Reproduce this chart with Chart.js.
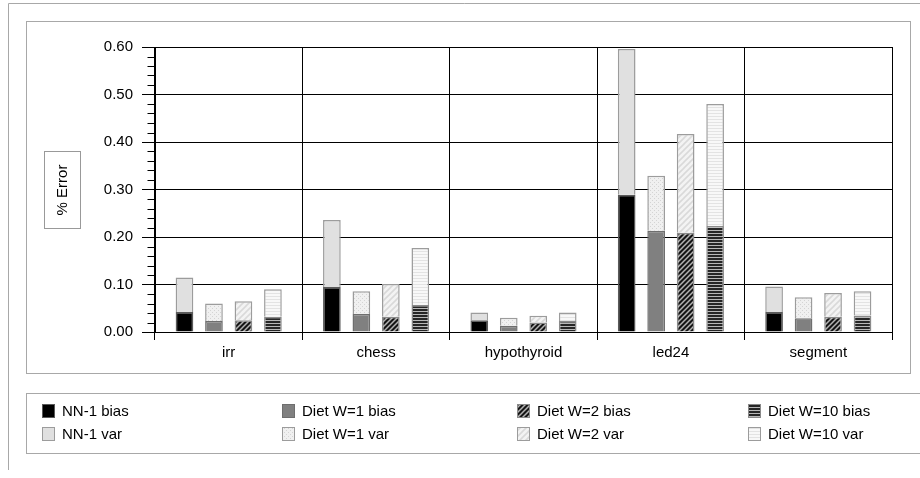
<!DOCTYPE html>
<html>
<head>
<meta charset="utf-8">
<script src="https://cdn.jsdelivr.net/npm/chart.js@4.4.0/dist/chart.umd.min.js"></script>
<style>
  html, body { margin: 0; padding: 0; background: #fff; }
  #wrap { width: 920px; height: 478px; position: relative; }
</style>
</head>
<body>
<div id="wrap"><canvas id="c"></canvas></div>
<script>
// Error decomposition (bias + variance) per data set
const categories = ['irr', 'chess', 'hypothyroid', 'led24', 'segment'];

const nn1Bias  = [0.042, 0.095, 0.025, 0.289, 0.042];
const nn1Var   = [0.073, 0.141, 0.016, 0.307, 0.054];
const w1Bias   = [0.023, 0.038, 0.013, 0.213, 0.029];
const w1Var    = [0.037, 0.048, 0.017, 0.116, 0.044];
const w2Bias   = [0.025, 0.032, 0.020, 0.209, 0.032];
const w2Var    = [0.040, 0.069, 0.014, 0.208, 0.050];
const w10Bias  = [0.032, 0.057, 0.023, 0.223, 0.035];
const w10Var   = [0.058, 0.120, 0.018, 0.257, 0.051];

const yTickValues = [0, 0.1, 0.2, 0.3, 0.4, 0.5, 0.6];
const yTitle = '% Error';

const FONT = '"Liberation Sans", Arial, Helvetica, sans-serif';
Chart.defaults.font.family = FONT;
Chart.defaults.font.size = 15;
Chart.defaults.color = '#000';

const canvas = document.getElementById('c');
const ctx0 = canvas.getContext('2d');

function tile(w, h, draw) {
  const t = document.createElement('canvas');
  t.width = w; t.height = h;
  draw(t.getContext('2d'), w, h);
  return ctx0.createPattern(t, 'repeat');
}
function diag(g, s, bg, fg, lw) {
  g.fillStyle = bg; g.fillRect(0, 0, s, s);
  g.strokeStyle = fg; g.lineWidth = lw;
  g.beginPath();
  g.moveTo(-s, s); g.lineTo(s, -s);
  g.moveTo(0, s * 2); g.lineTo(s * 2, 0);
  g.moveTo(0, s); g.lineTo(s, 0);
  g.stroke();
}

const fills = {
  nn1Bias: '#000000',
  nn1Var: '#e0e0e0',
  w1Bias: '#808080',
  w1Var: tile(4, 4, (g) => {
    g.fillStyle = '#f0f0f0'; g.fillRect(0, 0, 4, 4);
    g.fillStyle = '#d4d4d4'; g.fillRect(0, 0, 1, 1); g.fillRect(2, 2, 1, 1);
  }),
  w2Bias: tile(5, 5, (g) => diag(g, 5, '#161616', '#b4b4b4', 1.5)),
  w2Var: tile(6, 6, (g) => diag(g, 6, '#f3f3f3', '#d9d9d9', 1.6)),
  w10Bias: tile(4, 3, (g) => {
    g.fillStyle = '#262626'; g.fillRect(0, 0, 4, 2);
    g.fillStyle = '#b8b8b8'; g.fillRect(0, 2, 4, 1);
  }),
  w10Var: tile(4, 3, (g) => {
    g.fillStyle = '#f8f8f8'; g.fillRect(0, 0, 4, 3);
    g.fillStyle = '#e3e3e3'; g.fillRect(0, 2, 4, 1);
  })
};

function ds(label, data, stack, fill, border) {
  return {
    label, data, stack,
    backgroundColor: fill,
    borderColor: border || '#9c9c9c',
    borderWidth: 1.5,
    categoryPercentage: 0.8,
    barPercentage: 0.6
  };
}

const datasets = [
  ds('NN-1 bias', nn1Bias, 'nn1', fills.nn1Bias, '#5a5a5a'),
  ds('Diet W=1 bias', w1Bias, 'w1', fills.w1Bias, '#6e6e6e'),
  ds('Diet W=2 bias', w2Bias, 'w2', fills.w2Bias, '#8a8a8a'),
  ds('Diet W=10 bias', w10Bias, 'w10', fills.w10Bias, '#8a8a8a'),
  ds('NN-1 var', nn1Var, 'nn1', fills.nn1Var),
  ds('Diet W=1 var', w1Var, 'w1', fills.w1Var),
  ds('Diet W=2 var', w2Var, 'w2', fills.w2Var),
  ds('Diet W=10 var', w10Var, 'w10', fills.w10Var)
];

// Gray panel frames and the boxed axis title
const framePlugin = {
  id: 'frames',
  beforeDraw(chart) {
    const c = chart.ctx;
    c.save();
    c.strokeStyle = '#a8a8a8';
    c.lineWidth = 1;
    c.beginPath();
    c.moveTo(8.5, 470); c.lineTo(8.5, 3.5); c.lineTo(921, 3.5);
    c.stroke();
    c.strokeRect(26.5, 21.5, 884, 352);
    c.strokeRect(26.5, 393.5, 900, 60);
    c.strokeStyle = '#999';
    c.strokeRect(44.5, 151.5, 36, 77);
    c.fillStyle = '#000';
    c.font = '15px ' + FONT;
    c.translate(63, 190);
    c.rotate(-Math.PI / 2);
    c.textAlign = 'center';
    c.textBaseline = 'middle';
    c.fillText(yTitle, 0, 0);
    c.restore();
  }
};

// Minor tick marks on the value axis
const minorTicks = {
  id: 'minorTicks',
  afterDraw(chart) {
    const y = chart.scales.y;
    const c = chart.ctx;
    const x0 = Math.round(y.right) + 0.5;
    c.save();
    c.strokeStyle = '#000';
    c.lineWidth = 1;
    c.beginPath();
    for (let i = 1; i < 30; i++) {
      if (i % 5 === 0) continue;
      const py = Math.round(y.getPixelForValue(i * 0.02)) + 0.5;
      c.moveTo(x0 - 8, py); c.lineTo(x0, py);
    }
    c.stroke();
    c.restore();
  }
};

// Four-column legend: bias row on top, variance row below
const legendPlugin = {
  id: 'gridLegend',
  afterDraw(chart) {
    const c = chart.ctx;
    const colX = [42, 282, 517, 748];
    const rowY = [411, 434];
    c.save();
    c.font = '15px ' + FONT;
    c.textBaseline = 'middle';
    c.textAlign = 'left';
    chart.data.datasets.forEach((d, i) => {
      const col = i % 4, row = Math.floor(i / 4);
      const x = colX[col], yc = rowY[row];
      c.fillStyle = d.backgroundColor;
      c.fillRect(x, yc - 7, 13, 14);
      c.strokeStyle = d.borderColor;
      c.lineWidth = 1;
      c.strokeRect(x + 0.5, yc - 6.5, 12, 13);
      c.fillStyle = '#000';
      c.fillText(d.label, x + 20, yc + 1);
    });
    c.restore();
  }
};

new Chart(canvas, {
  type: 'bar',
  data: { labels: categories, datasets },
  plugins: [framePlugin, minorTicks, legendPlugin],
  options: {
    responsive: true,
    maintainAspectRatio: false,
    animation: false,
    layout: { padding: { top: 47, right: 28, bottom: 106, left: 0 } },
    plugins: { legend: { display: false }, tooltip: { enabled: false } },
    scales: {
      x: {
        stacked: true,
        offset: true,
        grid: { color: '#000', lineWidth: 1, tickLength: 8, offset: true },
        border: { color: '#000' },
        ticks: { color: '#000', font: { size: 15 }, padding: 4 },
        afterFit(s) { s.height = 40; }
      },
      y: {
        stacked: true,
        min: 0,
        max: 0.6,
        afterBuildTicks(s) { s.ticks = yTickValues.map(v => ({ value: v })); },
        grid: { color: '#000', lineWidth: 1, tickLength: 13 },
        border: { color: '#000' },
        ticks: { color: '#000', font: { size: 15 }, padding: 9,
                 callback: v => Number(v).toFixed(2) },
        afterFit(s) { s.width = 155; }
      }
    }
  }
});
</script>
</body>
</html>
